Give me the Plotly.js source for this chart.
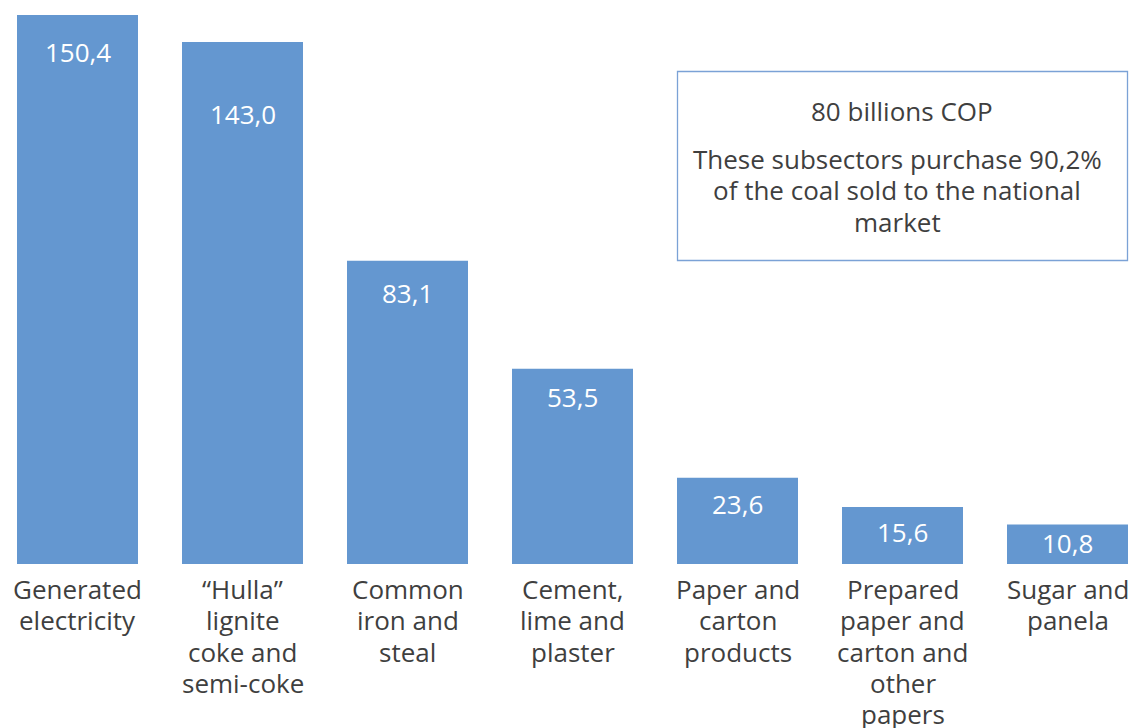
<!DOCTYPE html>
<html>
<head>
<meta charset="utf-8">
<script src="https://cdn.plot.ly/plotly-3.0.1.min.js"></script>
<style>html,body{margin:0;padding:0;background:#fff;}#chart{width:1130px;height:728px;}</style>
</head>
<body>
<div id="chart"></div>
<script>
var categories = [
  "Generated<br>electricity",
  "\u201cHulla\u201d<br>lignite<br>coke and<br>semi-coke",
  "Common<br>iron and<br>steal",
  "Cement,<br>lime and<br>plaster",
  "Paper and<br>carton<br>products",
  "Prepared<br>paper and<br>carton and<br>other<br>papers",
  "Sugar and<br>panela"
];
var values = [150.4, 143.0, 83.1, 53.5, 23.6, 15.6, 10.8];
var valueLabels = ["150,4", "143,0", "83,1", "53,5", "23,6", "15,6", "10,8"];
var boxTitle = "80 billions COP";
var boxLines = ["These subsectors purchase 90,2%", "of the coal sold to the national", "market"];

// label offsets below bar top (px), as placed in the original
var labelOffsets = [37, 72, 32, 28, 26, 25, 18];

var FONT = "'Open Sans', sans-serif";
var TXT = "#3f3f3f";
var FS = 26;
var LINE = 31.3;
var W = 1130, PH = 564;

var idx = categories.map(function (_, i) { return i; });

var trace = {
  type: "bar",
  x: idx,
  y: values,
  marker: { color: "#6497d0" },
  hoverinfo: "none"
};

function py(p) { return (PH - p) / PH; }

var annotations = values.map(function (v, i) {
  return {
    x: i, y: v, xref: "x", yref: "y",
    text: valueLabels[i], showarrow: false,
    yanchor: "middle", yshift: -labelOffsets[i],
    font: { family: FONT, size: FS, color: "#ffffff" }
  };
});
// category labels, one line per annotation for the original's tight line spacing
categories.forEach(function (c, i) {
  c.split("<br>").forEach(function (line, k) {
    annotations.push({
      x: i, xref: "x", yref: "paper", y: py(589 + k * LINE),
      text: line, showarrow: false, xanchor: "center", yanchor: "middle",
      font: { family: FONT, size: FS, color: TXT }
    });
  });
});
annotations.push({
  xref: "paper", yref: "paper", x: 902 / W, y: py(111),
  text: boxTitle, showarrow: false, xanchor: "center", yanchor: "middle",
  font: { family: FONT, size: FS, color: TXT }
});
boxLines.forEach(function (line, k) {
  annotations.push({
    xref: "paper", yref: "paper", x: 897 / W, y: py(159 + k * LINE),
    text: line, showarrow: false, xanchor: "center", yanchor: "middle",
    font: { family: FONT, size: FS, color: TXT }
  });
});

var layout = {
  width: 1130, height: 728,
  margin: { l: 0, r: 0, t: 0, b: 728 - PH, pad: 0 },
  paper_bgcolor: "#ffffff", plot_bgcolor: "#ffffff",
  bargap: 1 - 121 / 165,
  showlegend: false,
  xaxis: {
    range: [-77.5 / 165, -77.5 / 165 + W / 165],
    showticklabels: false,
    showgrid: false, zeroline: false, showline: false, ticks: "",
    fixedrange: true
  },
  yaxis: {
    range: [0, PH / 3.65],
    showgrid: false, zeroline: false, showline: false, showticklabels: false, ticks: "",
    fixedrange: true
  },
  shapes: [{
    type: "rect", xref: "paper", yref: "paper",
    x0: 677.5 / W, x1: 1127.5 / W, y0: py(260.5), y1: py(71.5),
    line: { color: "#7ba2d6", width: 1.3 }, fillcolor: "rgba(0,0,0,0)"
  }],
  annotations: annotations
};

Plotly.newPlot("chart", [trace], layout, { displayModeBar: false, staticPlot: true });
</script>
</body>
</html>
